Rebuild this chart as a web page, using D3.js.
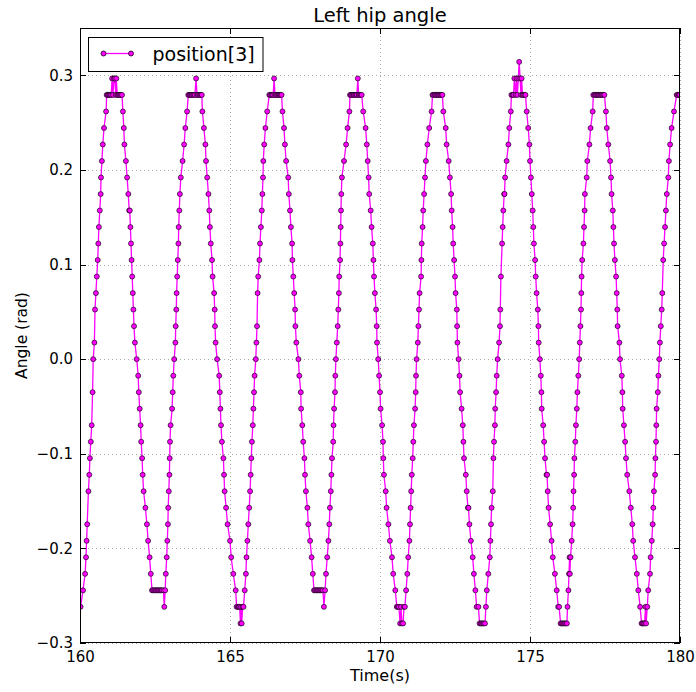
<!DOCTYPE html>
<html>
<head>
<meta charset="utf-8">
<script src="https://cdn.jsdelivr.net/npm/d3@7/dist/d3.min.js"></script>
<style>
  html, body { margin: 0; padding: 0; background: #fff; }
  svg { display: block; font-family: "DejaVu Sans", sans-serif; }
</style>
</head>
<body>
<svg id="chart" width="696" height="692"></svg>
<script>
// ---- data: [time (s), angle (rad)] ----
const cycle1 = [
[160.02,-0.2618],[160.10,-0.2443],[160.17,-0.2269],[160.20,-0.2094],[160.22,-0.1920],[160.24,-0.1745],[160.28,-0.1396],[160.31,-0.1222],[160.33,-0.1047],[160.36,-0.0873],[160.39,-0.0698],[160.42,-0.0349],[160.44,0],[160.48,0.0175],[160.50,0.0524],[160.53,0.0698],[160.56,0.0873],[160.59,0.1047],[160.61,0.1222],[160.63,0.1396],[160.66,0.1571],[160.69,0.1745],[160.70,0.1920],[160.73,0.2094],[160.76,0.2269],[160.80,0.2443],[160.87,0.2618],
[160.89,0.2793],[160.92,0.2793],[160.95,0.2793],[160.98,0.2793],[161.01,0.2793],[161.04,0.2793],[161.07,0.2967],[161.10,0.2793],[161.13,0.2967],[161.16,0.2967],[161.19,0.2793],[161.21,0.2967],[161.24,0.2793],[161.27,0.2793],[161.30,0.2793],[161.33,0.2793],[161.36,0.2793],[161.40,0.2793],
[161.43,0.2618],[161.46,0.2443],[161.48,0.2269],[161.53,0.2094],[161.57,0.1920],[161.61,0.1745],[161.64,0.1571],[161.66,0.1571],[161.68,0.1396],[161.70,0.1222],[161.72,0.1047],[161.74,0.0873],[161.76,0.0698],[161.78,0.0524],[161.80,0.0349],[161.83,0.0175],[161.89,0],[161.94,-0.0175],[161.96,-0.0349],[161.99,-0.0524],[162.02,-0.0698],[162.04,-0.0873],[162.07,-0.1047],[162.09,-0.1222],[162.12,-0.1396],[162.18,-0.1571],[162.23,-0.1745],[162.27,-0.1920],[162.32,-0.2094],[162.36,-0.2269],
[162.40,-0.2443],[162.43,-0.2443],[162.47,-0.2443],[162.50,-0.2443],[162.53,-0.2443],[162.57,-0.2443],[162.60,-0.2443],[162.63,-0.2443],[162.67,-0.2443],[162.70,-0.2443],[162.73,-0.2443],[162.78,-0.2443],[162.81,-0.2618],[162.84,-0.2443],[162.86,-0.2269]
];
const cycle2 = [
[162.89,-0.2094],[162.91,-0.1920],[162.93,-0.1745],[162.94,-0.1571],[162.96,-0.1396],[162.98,-0.1222],[162.99,-0.1047],[163.00,-0.0873],[163.02,-0.0698],[163.07,-0.0524],[163.09,-0.0349],[163.11,-0.0175],[163.14,0],[163.18,0.0175],[163.19,0.0349],[163.21,0.0524],[163.22,0.0698],[163.24,0.0873],[163.26,0.1047],[163.28,0.1222],[163.29,0.1396],[163.31,0.1571],[163.33,0.1745],[163.36,0.1920],[163.42,0.2094],[163.47,0.2269],[163.51,0.2443],[163.57,0.2618],
[163.61,0.2793],[163.64,0.2793],[163.67,0.2793],[163.70,0.2793],[163.73,0.2793],[163.77,0.2793],[163.80,0.2793],[163.83,0.2793],[163.87,0.2967],[163.90,0.2793],[163.93,0.2793],[163.97,0.2793],[164.00,0.2793],[164.03,0.2793],[164.06,0.2793],
[164.08,0.2618],[164.13,0.2443],[164.18,0.2269],[164.20,0.2094],[164.24,0.1920],[164.28,0.1745],[164.31,0.1571],[164.33,0.1396],[164.36,0.1222],[164.40,0.1047],[164.42,0.0873],[164.47,0.0698],[164.49,0.0524],[164.50,0.0349],[164.52,0.0175],[164.57,0],[164.64,-0.0175],[164.66,-0.0349],[164.68,-0.0524],[164.70,-0.0698],[164.73,-0.0873],[164.78,-0.1047],[164.80,-0.1222],[164.82,-0.1396],[164.87,-0.1571],[164.92,-0.1745],[165.00,-0.1920],[165.04,-0.2094],[165.11,-0.2269],[165.19,-0.2443],
[165.22,-0.2618],[165.26,-0.2618],[165.29,-0.2618],[165.32,-0.2618],[165.35,-0.2793],[165.37,-0.2618],[165.39,-0.2793],[165.42,-0.2618],[165.45,-0.2618]
];
const cycle3 = [
[165.49,-0.2443],[165.53,-0.2269],[165.55,-0.2094],[165.58,-0.1920],[165.61,-0.1745],[165.64,-0.1571],[165.67,-0.1396],[165.69,-0.1222],[165.71,-0.1047],[165.73,-0.0873],[165.76,-0.0698],[165.78,-0.0524],[165.80,-0.0349],[165.82,-0.0175],[165.86,0],[165.88,0.0175],[165.90,0.0349],[165.92,0.0698],[165.94,0.0873],[165.98,0.1047],[166.00,0.1222],[166.03,0.1396],[166.06,0.1571],[166.08,0.1745],[166.10,0.1920],[166.11,0.2094],[166.14,0.2269],[166.18,0.2443],[166.24,0.2618],
[166.31,0.2793],[166.34,0.2793],[166.38,0.2793],[166.41,0.2793],[166.44,0.2793],[166.47,0.2967],[166.50,0.2793],[166.53,0.2793],[166.57,0.2793],[166.60,0.2793],[166.63,0.2793],[166.66,0.2793],[166.69,0.2793],[166.72,0.2793],
[166.75,0.2618],[166.80,0.2443],[166.83,0.2269],[166.87,0.2094],[166.94,0.1920],[166.96,0.1745],[167.00,0.1571],[167.03,0.1396],[167.07,0.1222],[167.08,0.1047],[167.11,0.0873],[167.14,0.0698],[167.17,0.0524],[167.18,0.0349],[167.21,0.0175],[167.28,0],[167.31,-0.0175],[167.36,-0.0349],[167.37,-0.0524],[167.41,-0.0698],[167.44,-0.0873],[167.48,-0.1047],[167.50,-0.1222],[167.53,-0.1396],[167.58,-0.1571],[167.61,-0.1745],[167.67,-0.1920],[167.72,-0.2094],[167.76,-0.2269],
[167.80,-0.2443],[167.83,-0.2443],[167.87,-0.2443],[167.90,-0.2443],[167.93,-0.2443],[167.97,-0.2443],[168.00,-0.2443],[168.03,-0.2443],[168.07,-0.2443],[168.10,-0.2443],[168.13,-0.2618],[168.17,-0.2443],[168.20,-0.2269]
];
const cycle4 = [
[168.24,-0.2094],[168.28,-0.1920],[168.31,-0.1745],[168.33,-0.1571],[168.36,-0.1396],[168.38,-0.1222],[168.40,-0.1047],[168.44,-0.0873],[168.45,-0.0698],[168.47,-0.0524],[168.50,-0.0349],[168.51,-0.0175],[168.53,0],[168.56,0.0175],[168.59,0.0349],[168.61,0.0524],[168.63,0.0698],[168.64,0.0873],[168.67,0.1047],[168.68,0.1222],[168.69,0.1396],[168.70,0.1571],[168.71,0.1745],[168.73,0.1920],[168.80,0.2094],[168.87,0.2269],[168.92,0.2443],[168.98,0.2618],
[169.00,0.2793],[169.03,0.2793],[169.07,0.2793],[169.10,0.2793],[169.13,0.2793],[169.17,0.2793],[169.20,0.2793],[169.23,0.2793],[169.26,0.2967],[169.29,0.2793],[169.32,0.2793],[169.36,0.2793],[169.39,0.2793],
[169.44,0.2618],[169.52,0.2443],[169.56,0.2269],[169.59,0.2094],[169.62,0.1920],[169.64,0.1745],[169.69,0.1571],[169.72,0.1396],[169.76,0.1222],[169.78,0.1047],[169.80,0.0873],[169.83,0.0698],[169.87,0.0524],[169.89,0.0349],[169.90,0.0175],[169.94,0],[169.97,-0.0175],[170.00,-0.0349],[170.02,-0.0524],[170.07,-0.0698],[170.10,-0.0873],[170.11,-0.1047],[170.13,-0.1222],[170.19,-0.1396],[170.22,-0.1571],[170.28,-0.1745],[170.33,-0.1920],[170.40,-0.2094],[170.44,-0.2269],[170.51,-0.2443],
[170.56,-0.2618],[170.59,-0.2618],[170.63,-0.2618],[170.67,-0.2793],[170.70,-0.2618],[170.73,-0.2793],[170.77,-0.2793],[170.80,-0.2618],[170.83,-0.2618]
];
const cycle5 = [
[170.87,-0.2443],[170.91,-0.2269],[170.94,-0.2094],[170.98,-0.1920],[171.00,-0.1745],[171.02,-0.1571],[171.04,-0.1396],[171.06,-0.1222],[171.09,-0.1047],[171.11,-0.0873],[171.13,-0.0698],[171.17,-0.0524],[171.19,-0.0349],[171.20,-0.0175],[171.22,0],[171.26,0.0175],[171.28,0.0349],[171.30,0.0524],[171.32,0.0698],[171.37,0.0873],[171.38,0.1047],[171.39,0.1222],[171.42,0.1396],[171.44,0.1571],[171.47,0.1745],[171.50,0.1920],[171.53,0.2094],[171.58,0.2269],[171.64,0.2443],[171.72,0.2618],
[171.75,0.2793],[171.78,0.2793],[171.82,0.2793],[171.85,0.2793],[171.88,0.2793],[171.92,0.2793],[171.95,0.2793],[171.98,0.2793],[172.02,0.2793],[172.05,0.2793],[172.08,0.2793],
[172.11,0.2618],[172.19,0.2443],[172.22,0.2269],[172.29,0.2094],[172.33,0.1920],[172.37,0.1745],[172.39,0.1571],[172.42,0.1396],[172.44,0.1222],[172.47,0.1047],[172.50,0.0873],[172.52,0.0698],[172.56,0.0524],[172.57,0.0349],[172.58,0.0175],[172.62,0],[172.65,-0.0175],[172.67,-0.0349],[172.72,-0.0524],[172.76,-0.0698],[172.78,-0.0873],[172.80,-0.1047],[172.86,-0.1222],[172.89,-0.1396],[172.93,-0.1571],[172.95,-0.1571],[172.98,-0.1745],[173.03,-0.1920],[173.09,-0.2094],[173.13,-0.2269],[173.18,-0.2443],[173.22,-0.2618],[173.28,-0.2618],
[173.32,-0.2793],[173.36,-0.2793],[173.39,-0.2793],[173.43,-0.2793],[173.46,-0.2793],[173.50,-0.2793]
];
const cycle6 = [
[173.53,-0.2618],[173.56,-0.2443],[173.61,-0.2269],[173.66,-0.2094],[173.68,-0.1920],[173.70,-0.1745],[173.72,-0.1571],[173.76,-0.1396],[173.78,-0.1047],[173.80,-0.0873],[173.83,-0.0698],[173.84,-0.0524],[173.87,-0.0349],[173.89,-0.0175],[173.92,0],[173.97,0.0175],[174.00,0.0349],[174.01,0.0524],[174.03,0.0873],[174.07,0.1222],[174.09,0.1396],[174.11,0.1571],[174.14,0.1745],[174.15,0.1745],[174.17,0.1920],[174.22,0.2094],[174.28,0.2269],[174.31,0.2443],[174.36,0.2618],
[174.38,0.2793],[174.42,0.2793],[174.45,0.2793],[174.48,0.2967],[174.52,0.2793],[174.55,0.2967],[174.58,0.2793],[174.61,0.2967],[174.64,0.3142],[174.67,0.2967],[174.70,0.2793],[174.72,0.2967],[174.75,0.2793],[174.78,0.2793],[174.82,0.2793],[174.85,0.2793],
[174.89,0.2618],[174.94,0.2443],[174.98,0.2269],[175.00,0.2094],[175.03,0.1920],[175.06,0.1745],[175.09,0.1571],[175.11,0.1396],[175.13,0.1222],[175.17,0.1047],[175.19,0.0873],[175.22,0.0698],[175.26,0.0524],[175.28,0.0349],[175.29,0.0175],[175.33,0],[175.36,-0.0175],[175.38,-0.0349],[175.39,-0.0524],[175.44,-0.0698],[175.47,-0.0873],[175.50,-0.1047],[175.55,-0.1222],[175.57,-0.1222],[175.59,-0.1396],[175.62,-0.1571],[175.67,-0.1745],[175.72,-0.1920],[175.76,-0.2094],[175.83,-0.2269],[175.89,-0.2443],[175.94,-0.2618],[175.97,-0.2618],
[176.02,-0.2793],[176.06,-0.2793],[176.09,-0.2793],[176.13,-0.2793],[176.16,-0.2793],[176.20,-0.2793],[176.23,-0.2793]
];
const cycle7 = [
[176.25,-0.2618],[176.28,-0.2443],[176.30,-0.2269],[176.32,-0.2094],[176.33,-0.2269],[176.35,-0.2094],[176.39,-0.1920],[176.42,-0.1745],[176.44,-0.1571],[176.45,-0.1396],[176.47,-0.1222],[176.48,-0.1047],[176.51,-0.0873],[176.53,-0.0698],[176.56,-0.0524],[176.58,-0.0349],[176.61,-0.0175],[176.64,0],[176.66,0.0175],[176.68,0.0349],[176.70,0.0524],[176.71,0.0698],[176.72,0.0873],[176.74,0.1047],[176.78,0.1222],[176.80,0.1396],[176.82,0.1571],[176.83,0.1745],[176.89,0.1920],[176.91,0.2094],[176.98,0.2269],[177.02,0.2443],[177.09,0.2618],
[177.11,0.2793],[177.15,0.2793],[177.18,0.2793],[177.21,0.2793],[177.25,0.2793],[177.28,0.2793],[177.31,0.2793],[177.35,0.2793],[177.38,0.2793],[177.41,0.2793],[177.45,0.2793],[177.48,0.2793],
[177.53,0.2618],[177.56,0.2443],[177.61,0.2269],[177.67,0.2094],[177.70,0.1920],[177.72,0.1745],[177.76,0.1571],[177.78,0.1396],[177.80,0.1222],[177.83,0.1047],[177.87,0.0873],[177.89,0.0698],[177.91,0.0524],[177.92,0.0349],[177.98,0.0175],[178.00,0],[178.06,-0.0175],[178.08,-0.0349],[178.09,-0.0524],[178.13,-0.0698],[178.17,-0.0873],[178.20,-0.1047],[178.24,-0.1222],[178.31,-0.1396],[178.36,-0.1571],[178.41,-0.1745],[178.44,-0.1920],[178.50,-0.2094],[178.56,-0.2269],[178.61,-0.2443],[178.67,-0.2618],
[178.72,-0.2793],[178.75,-0.2793],[178.78,-0.2793],[178.82,-0.2793],[178.85,-0.2618],[178.87,-0.2793],[178.91,-0.2618]
];
const cycle8 = [
[178.94,-0.2443],[179.00,-0.2269],[179.02,-0.2094],[179.06,-0.1920],[179.09,-0.1745],[179.11,-0.1571],[179.13,-0.1396],[179.17,-0.1222],[179.18,-0.1047],[179.20,-0.0873],[179.21,-0.0698],[179.22,-0.0524],[179.26,-0.0349],[179.28,-0.0175],[179.31,0],[179.33,0.0175],[179.36,0.0349],[179.39,0.0524],[179.41,0.0698],[179.44,0.1047],[179.47,0.1222],[179.50,0.1396],[179.53,0.1571],[179.56,0.1745],[179.61,0.1920],[179.63,0.2094],[179.67,0.2269],[179.72,0.2443],[179.80,0.2618],
[179.89,0.2793],[179.92,0.2793],[179.96,0.2793],[179.99,0.2793]
];

const xTicks = [160, 165, 170, 175, 180];
const yTicks = [-0.3, -0.2, -0.1, 0.0, 0.1, 0.2, 0.3];
const xDomain = [160, 180];
const yDomain = [-0.3, 0.35];
const seriesName = "position[3]";
const titleText = "Left hip angle";
const xLabel = "Time(s)";
const yLabel = "Angle (rad)";

// ---- drawing ----
const data = [].concat(cycle1, cycle2, cycle3, cycle4, cycle5, cycle6, cycle7, cycle8);
const W = 696, H = 692;
const m = { left: 80, right: 16, top: 28, bottom: 49 };
const pw = W - m.left - m.right, ph = H - m.top - m.bottom;
const svg = d3.select("#chart");
const x = d3.scaleLinear().domain(xDomain).range([m.left, m.left + pw]);
const y = d3.scaleLinear().domain(yDomain).range([m.top + ph, m.top]);
const color = "#ff00ff";
const fmtY = v => (v < 0 ? "\u2212" : "") + Math.abs(v).toFixed(1);

svg.append("rect").attr("width", W).attr("height", H).attr("fill", "#fff");

// grid
const grid = svg.append("g").attr("stroke", "#aaa").attr("stroke-width", 1)
  .attr("stroke-dasharray", "1,3").attr("shape-rendering", "crispEdges");
grid.selectAll("line.gx").data(xTicks).join("line")
  .attr("x1", d => Math.round(x(d)) + 0.5).attr("x2", d => Math.round(x(d)) + 0.5)
  .attr("y1", m.top).attr("y2", m.top + ph);
grid.selectAll("line.gy").data(yTicks).join("line")
  .attr("y1", d => Math.round(y(d)) + 0.5).attr("y2", d => Math.round(y(d)) + 0.5)
  .attr("x1", m.left).attr("x2", m.left + pw);

// clip
svg.append("clipPath").attr("id", "clip").append("rect")
  .attr("x", m.left).attr("y", m.top).attr("width", pw).attr("height", ph);
const plot = svg.append("g").attr("clip-path", "url(#clip)");

const line = d3.line().x(d => x(d[0])).y(d => y(d[1]));
plot.append("path").datum(data).attr("d", line)
  .attr("fill", "none").attr("stroke", color).attr("stroke-width", 1.3)
  .attr("stroke-linejoin", "round");
plot.selectAll("circle").data(data).join("circle")
  .attr("cx", d => x(d[0])).attr("cy", d => y(d[1])).attr("r", 2.5)
  .attr("fill", color).attr("stroke", "#000").attr("stroke-width", 0.75)
  .attr("stroke-opacity", 0.85);

// frame
svg.append("rect").attr("x", m.left + 0.5).attr("y", m.top + 0.5)
  .attr("width", pw - 1).attr("height", ph - 1)
  .attr("fill", "none").attr("stroke", "#000").attr("stroke-width", 1)
  .attr("shape-rendering", "crispEdges");

// axes (ticks inward, mirrored)
const tl = 6;
const axB = d3.axisBottom(x).tickValues(xTicks).tickSize(-tl).tickPadding(8).tickFormat(d3.format("d"));
const axT = d3.axisTop(x).tickValues(xTicks).tickSize(-tl).tickFormat("");
const axL = d3.axisLeft(y).tickValues(yTicks).tickSize(-tl).tickPadding(7).tickFormat(fmtY);
const axR = d3.axisRight(y).tickValues(yTicks).tickSize(-tl).tickFormat("");
function styleAxis(g) {
  g.select(".domain").remove();
  g.selectAll(".tick line").attr("stroke", "#000").attr("shape-rendering", "crispEdges");
  g.selectAll(".tick text").attr("fill", "#000").attr("font-size", 15)
    .attr("font-family", "DejaVu Sans");
}
svg.append("g").attr("transform", `translate(0,${m.top + ph})`).call(axB).call(styleAxis);
svg.append("g").attr("transform", `translate(0,${m.top})`).call(axT).call(styleAxis);
svg.append("g").attr("transform", `translate(${m.left},0)`).call(axL).call(styleAxis);
svg.append("g").attr("transform", `translate(${m.left + pw},0)`).call(axR).call(styleAxis);

// labels
svg.append("text").attr("x", m.left + pw / 2).attr("y", 21.5).attr("text-anchor", "middle")
  .attr("font-size", 19.5).attr("fill", "#000").text(titleText);
svg.append("text").attr("x", m.left + pw / 2).attr("y", 681).attr("text-anchor", "middle")
  .attr("font-size", 16).attr("fill", "#000").text(xLabel);
svg.append("text").attr("transform", `translate(26.5,${m.top + ph / 2}) rotate(-90)`)
  .attr("text-anchor", "middle").attr("font-size", 15.5).attr("fill", "#000").text(yLabel);

// legend
const lg = svg.append("g");
lg.append("rect").attr("x", 88.5).attr("y", 37.5).attr("width", 174.5).attr("height", 34)
  .attr("fill", "#fff").attr("stroke", "#000").attr("stroke-width", 1);
lg.append("line").attr("x1", 103.5).attr("x2", 131).attr("y1", 53.5).attr("y2", 53.5)
  .attr("stroke", color).attr("stroke-width", 1.3);
lg.selectAll("circle").data([103.5, 131]).join("circle")
  .attr("cx", d => d).attr("cy", 53.5).attr("r", 2.5)
  .attr("fill", color).attr("stroke", "#000").attr("stroke-width", 0.75);
lg.append("text").attr("x", 152.5).attr("y", 61).attr("font-size", 19)
  .attr("fill", "#000").text(seriesName);
</script>
</body>
</html>
